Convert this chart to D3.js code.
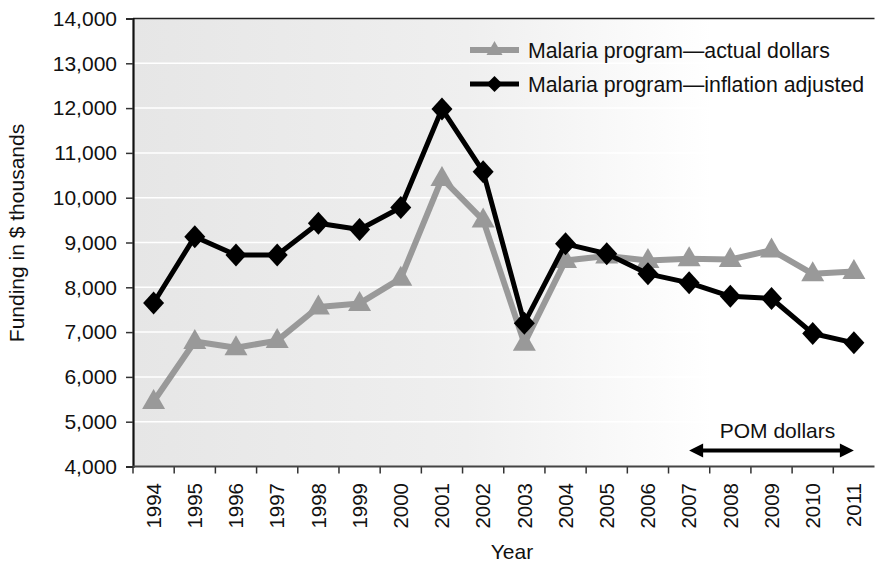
<!DOCTYPE html>
<html>
<head>
<meta charset="utf-8">
<script src="https://cdn.jsdelivr.net/npm/d3@7"></script>
<style>
  html, body { margin: 0; padding: 0; background: #ffffff; }
  svg { display: block; }
  text { font-family: "Liberation Sans", Arial, Helvetica, sans-serif; fill: #111; }
</style>
</head>
<body>
<svg id="chart" width="875" height="564"></svg>
<script>
// ---- data ----
const years = ["1994","1995","1996","1997","1998","1999","2000","2001","2002","2003","2004","2005","2006","2007","2008","2009","2010","2011"];
const actualDollars = [5450, 6790, 6650, 6810, 7560, 7640, 8200, 10430, 9500, 6750, 8600, 8700, 8600, 8640, 8620, 8830, 8300, 8350];
const inflationAdjusted = [7650, 9130, 8720, 8720, 9430, 9290, 9780, 11980, 10580, 7200, 8970, 8750, 8300, 8100, 7800, 7750, 6970, 6760];
const yTicks = [4000, 5000, 6000, 7000, 8000, 9000, 10000, 11000, 12000, 13000, 14000];
const seriesNames = ["Malaria program\u2014actual dollars", "Malaria program\u2014inflation adjusted"];
const pomRange = ["2007", "2011"];
const pomLabel = "POM dollars";
const xTitle = "Year";
const yTitle = "Funding in $ thousands";

// ---- layout ----
const svg = d3.select("#chart");
const pLeft = 133, pRight = 874.5, pTop = 18.5, pBottom = 466.5;

const x = d3.scaleBand().domain(years).range([pLeft, pRight]).padding(0);
const y = d3.scaleLinear().domain([4000, 14000]).range([pBottom, pTop]);

// background gradient
const defs = svg.append("defs");
const grad = defs.append("linearGradient").attr("id", "bg").attr("x1", "0%").attr("x2", "100%").attr("y1", "0%").attr("y2", "0%");
grad.append("stop").attr("offset", "0%").attr("stop-color", "#e6e6e6");
grad.append("stop").attr("offset", "45%").attr("stop-color", "#efefef");
grad.append("stop").attr("offset", "78%").attr("stop-color", "#ffffff");
grad.append("stop").attr("offset", "100%").attr("stop-color", "#ffffff");

svg.append("rect").attr("x", pLeft).attr("y", pTop).attr("width", pRight - pLeft).attr("height", pBottom - pTop).attr("fill", "url(#bg)");

// gridlines
svg.append("g").selectAll("line").data(yTicks.filter(d => d > 4000 && d < 14000)).join("line")
  .attr("x1", pLeft).attr("x2", pRight)
  .attr("y1", d => y(d)).attr("y2", d => y(d))
  .attr("stroke", "#ffffff").attr("stroke-width", 1.5);

// top border
svg.append("line").attr("x1", pLeft).attr("x2", pRight).attr("y1", y(14000)).attr("y2", y(14000))
  .attr("stroke", "#222").attr("stroke-width", 1.5);

// y axis
const yAxis = svg.append("g").attr("transform", `translate(${pLeft},0)`)
  .call(d3.axisLeft(y).tickValues(yTicks).tickSize(7).tickPadding(9).tickFormat(d3.format(",")));
yAxis.select(".domain").attr("stroke", "#111").attr("stroke-width", 2.2);
yAxis.selectAll(".tick line").attr("stroke", "#333").attr("stroke-width", 1.5);
yAxis.selectAll("text").attr("font-size", 21).attr("fill", "#111")
  .attr("font-family", "'Liberation Sans', Arial, sans-serif");

// x axis line + boundary ticks
const xAxisG = svg.append("g");
xAxisG.selectAll("line.tk").data(years).join("line").attr("class", "tk")
  .attr("x1", d => x(d)).attr("x2", d => x(d))
  .attr("y1", pBottom).attr("y2", pBottom + 7)
  .attr("stroke", "#333").attr("stroke-width", 1.5);
xAxisG.append("line").attr("x1", pLeft).attr("x2", pRight).attr("y1", pBottom).attr("y2", pBottom)
  .attr("stroke", "#444").attr("stroke-width", 2.2);
xAxisG.selectAll("g.lbl").data(years).join("g").attr("class", "lbl")
  .attr("transform", d => `translate(${x(d) + x.bandwidth() / 2},${pBottom}) rotate(-90)`)
  .append("text")
  .attr("x", -16.5).attr("dy", "0.35em")
  .attr("text-anchor", "end").attr("font-size", 20.5)
  .text(d => d);

// axis titles
svg.append("text").attr("x", 512).attr("y", 559).attr("text-anchor", "middle").attr("font-size", 21).text(xTitle);
svg.append("text").attr("transform", `translate(24,233) rotate(-90)`).attr("text-anchor", "middle").attr("font-size", 21).text(yTitle);

// marker shapes
const diamondPath = "M0,-11.5L10.5,0L0,11.5L-10.5,0Z";
const trianglePath = "M0,-12.5L11.5,7.5L-11.5,7.5Z";

const cx = d => x(d) + x.bandwidth() / 2;
const line = d3.line().x(d => cx(d[0])).y(d => y(d[1]));

// actual dollars (gray)
const grayData = years.map((yr, i) => [yr, actualDollars[i]]);
svg.append("path").datum(grayData).attr("d", line)
  .attr("fill", "none").attr("stroke", "#999999").attr("stroke-width", 6).attr("stroke-linejoin", "round");
svg.append("g").selectAll("path").data(grayData).join("path")
  .attr("d", trianglePath).attr("fill", "#999999")
  .attr("transform", d => `translate(${cx(d[0])},${y(d[1])})`);

// inflation adjusted (black)
const blackData = years.map((yr, i) => [yr, inflationAdjusted[i]]);
svg.append("path").datum(blackData).attr("d", line)
  .attr("fill", "none").attr("stroke", "#000").attr("stroke-width", 5).attr("stroke-linejoin", "round");
svg.append("g").selectAll("path").data(blackData).join("path")
  .attr("d", diamondPath).attr("fill", "#000")
  .attr("transform", d => `translate(${cx(d[0])},${y(d[1])})`);

// legend
const legend = svg.append("g");
const legendRows = [
  { name: seriesNames[0], color: "#999999", width: 6, shape: "M0,-9L8,5L-8,5Z", y: 50 },
  { name: seriesNames[1], color: "#000", width: 5, shape: "M0,-8L8,0L0,8L-8,0Z", y: 84 }
];
legendRows.forEach(r => {
  legend.append("line").attr("x1", 470).attr("x2", 519).attr("y1", r.y).attr("y2", r.y)
    .attr("stroke", r.color).attr("stroke-width", r.width);
  legend.append("path").attr("d", r.shape).attr("fill", r.color).attr("transform", `translate(494.5,${r.y})`);
  legend.append("text").attr("x", 528).attr("y", r.y + 7.5).attr("font-size", 21.3).text(r.name);
});

// POM dollars arrow
const ax1 = cx(pomRange[0]), ax2 = cx(pomRange[1]), ay = 450.5;
svg.append("line").attr("x1", ax1 + 10).attr("x2", ax2 - 10).attr("y1", ay).attr("y2", ay)
  .attr("stroke", "#000").attr("stroke-width", 4);
svg.append("path").attr("d", `M${ax1},${ay}L${ax1 + 14},${ay - 7}L${ax1 + 14},${ay + 7}Z`).attr("fill", "#000");
svg.append("path").attr("d", `M${ax2},${ay}L${ax2 - 14},${ay - 7}L${ax2 - 14},${ay + 7}Z`).attr("fill", "#000");
svg.append("text").attr("x", (ax1 + ax2) / 2 + 6).attr("y", 438).attr("text-anchor", "middle").attr("font-size", 21).text(pomLabel);
</script>
</body>
</html>
